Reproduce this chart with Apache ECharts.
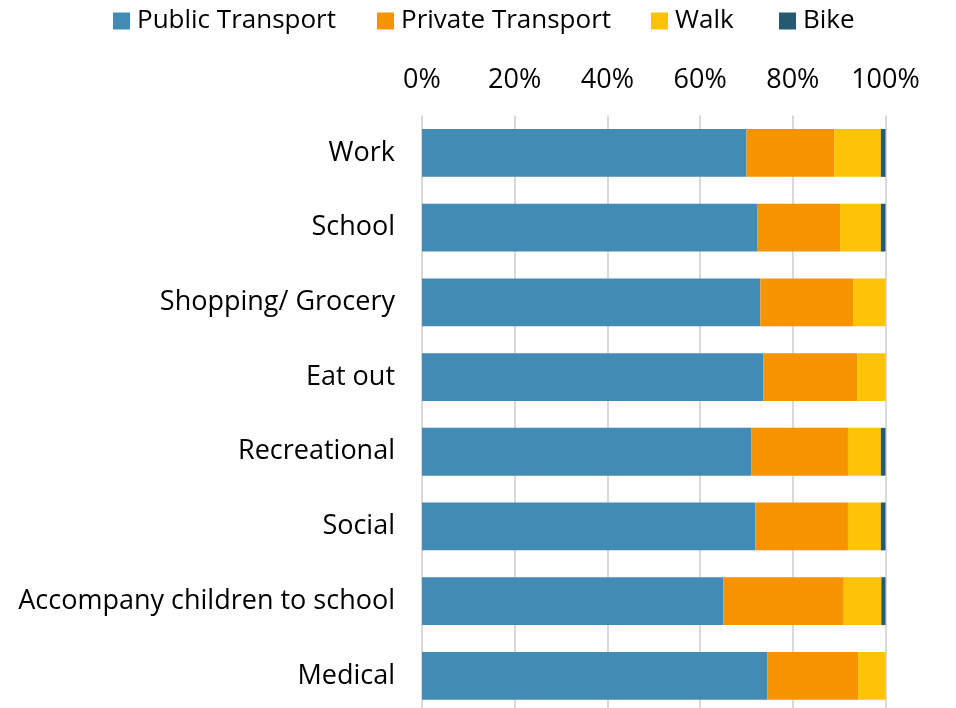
<!DOCTYPE html>
<html>
<head>
<meta charset="utf-8">
<style>
  html, body { margin: 0; padding: 0; background: #ffffff; overflow: hidden; }
  #chart { width: 956px; height: 730px; }
</style>
<script src="https://cdn.jsdelivr.net/npm/echarts@6/dist/echarts.min.js"></script>
</head>
<body>
<div id="chart"></div>
<script>
// Trip purposes and the share (%) of each travel mode
const categories = ['Work', 'School', 'Shopping/ Grocery', 'Eat out', 'Recreational', 'Social', 'Accompany children to school', 'Medical'];
const modes = ['Public Transport', 'Private Transport', 'Walk', 'Bike'];
const publicTransport  = [70.0, 72.3, 73.0, 73.6, 71.1, 71.9, 65.0, 74.5];
const privateTransport = [19.0, 17.9, 20.0, 20.3, 20.8, 20.0, 26.0, 19.6];
const walk             = [10.0,  8.8,  7.0,  6.1,  7.1,  7.1,  8.1,  5.9];
const bike             = [ 1.0,  1.0,  0.0,  0.0,  1.0,  1.0,  0.9,  0.0];
const xTicks = [0, 20, 40, 60, 80, 100];

const FONT = 'Open Sans';
const colors = ['#428bb4', '#f59300', '#fec306', '#265a71'];
const legendLeft = [113, 377, 651, 779];
const chart = echarts.init(document.getElementById('chart'));

function mode(i, data) {
  return {
    name: modes[i],
    type: 'bar',
    stack: 'share',
    data: data,
    barCategoryGap: '36%',
    itemStyle: { color: colors[i] },
    emphasis: { disabled: true }
  };
}

// one legend block per mode so each entry sits at its own x
const legends = modes.map((m, i) => ({
  top: 8,
  left: legendLeft[i],
  padding: 0,
  itemWidth: 17,
  itemHeight: 17,
  icon: 'rect',
  selectedMode: false,
  textStyle: { fontSize: 26, color: '#000', fontFamily: FONT, padding: [0, 0, 0, 2] },
  data: [m]
}));

chart.setOption({
  animation: false,
  textStyle: { fontFamily: FONT },
  legend: legends,
  grid: { left: 422, right: 70.5, top: 115.6, height: 597.6, containLabel: false },
  xAxis: {
    type: 'value',
    position: 'top',
    min: xTicks[0],
    max: xTicks[xTicks.length - 1],
    interval: 20,
    axisLine: { show: false },
    axisTick: { show: false },
    splitLine: { show: true, lineStyle: { color: '#d9d9d9', width: 2 } },
    axisLabel: {
      fontSize: 27, color: '#000', margin: 22, fontFamily: FONT,
      formatter: v => v + '%'
    }
  },
  yAxis: {
    type: 'category',
    inverse: true,
    data: categories,
    axisLine: { show: false },
    axisTick: { show: false },
    axisLabel: { fontSize: 27, color: '#000', margin: 27, fontFamily: FONT }
  },
  series: [
    mode(0, publicTransport),
    mode(1, privateTransport),
    mode(2, walk),
    mode(3, bike)
  ]
});
</script>
</body>
</html>
